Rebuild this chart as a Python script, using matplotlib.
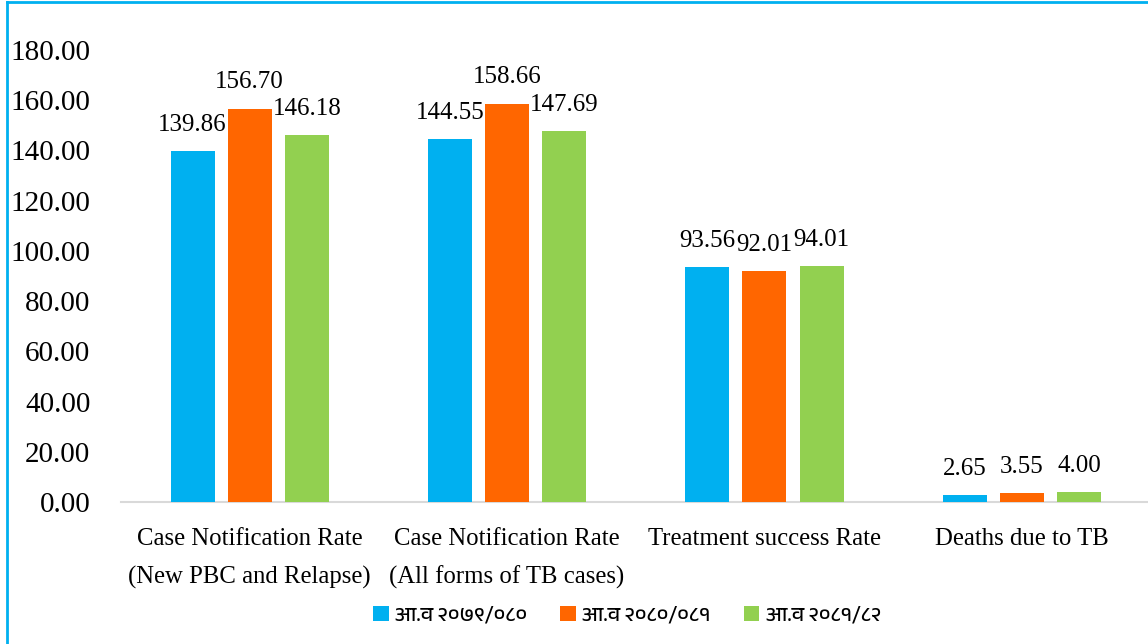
import matplotlib
matplotlib.use("Agg")
import matplotlib.pyplot as plt
import numpy as np
from matplotlib.lines import Line2D
from matplotlib import font_manager

categories = ["Case Notification Rate\n(New PBC and Relapse)",
              "Case Notification Rate\n(All forms of TB cases)",
              "Treatment success Rate",
              "Deaths due to TB"]
series_names = ["आ.व २०७९/०८०", "आ.व २०८०/०८१", "आ.व २०८१/८२"]
fy2079 = [139.86, 144.55, 93.56, 2.65]
fy2080 = [156.70, 158.66, 92.01, 3.55]
fy2081 = [146.18, 147.69, 94.01, 4.00]
colors = ["#00B0F0", "#FF6600", "#92D050"]
yticks = [0, 20, 40, 60, 80, 100, 120, 140, 160, 180]

names = sorted({f.name for f in font_manager.fontManager.ttflist})
deva = [n for n in names if "Devanagari" in n or n in ("Lohit Devanagari", "FreeSans", "Mangal", "Kalimati")]
legend_family = deva + ["DejaVu Sans"]

plt.rcParams["font.family"] = ["Liberation Serif", "DejaVu Serif"]

fig = plt.figure(figsize=(11.48, 6.44), dpi=100)
ax = fig.add_axes([121/1148, 1-502/644, (1148-121)/1148, (502-50)/644])

x = np.arange(len(categories))
w = 0.171
off = 0.222
for i, (vals, c) in enumerate(zip([fy2079, fy2080, fy2081], colors)):
    pos = x + (i - 1) * off
    bars = ax.bar(pos, vals, width=w, color=c, label=series_names[i], zorder=3)
    for b, v in zip(bars, vals):
        ax.annotate(f"{v:.2f}", (b.get_x() + b.get_width()/2, v),
                    xytext=(0, 11), textcoords="offset points",
                    ha="center", va="bottom", fontsize=18, color="#000000",
                    annotation_clip=False)

ax.set_ylim(0, 180)
ax.set_xlim(-0.5, len(categories) - 0.5 - 0.01)
ax.set_yticks(yticks)
ax.set_yticklabels([f"{t:.2f}" for t in yticks], fontsize=21)
ax.set_xticks(x)
ax.set_xticklabels(categories, fontsize=17.8, linespacing=1.85)
ax.tick_params(axis="both", length=0)
ax.tick_params(axis="y", pad=22)
ax.tick_params(axis="x", pad=19)
for s in ["left", "right", "top"]:
    ax.spines[s].set_visible(False)
ax.spines["bottom"].set_color("#D9D9D9")
ax.spines["bottom"].set_linewidth(1.5)

leg = fig.legend(loc="center", bbox_to_anchor=(627/1148, 1-615/644), ncol=3,
                 frameon=False, prop={"family": legend_family, "size": 15},
                 handlelength=0.75, handleheight=0.75, handletextpad=0.3,
                 columnspacing=1.6)

W, H = 1148, 644
fig.add_artist(Line2D([7/W, 7/W], [0, 1 - 1.5/H], transform=fig.transFigure,
                      color="#00B0F0", linewidth=2))
fig.add_artist(Line2D([7/W, 1], [1 - 1.5/H, 1 - 1.5/H], transform=fig.transFigure,
                      color="#00B0F0", linewidth=2))

fig.savefig("out.png", dpi=100)
